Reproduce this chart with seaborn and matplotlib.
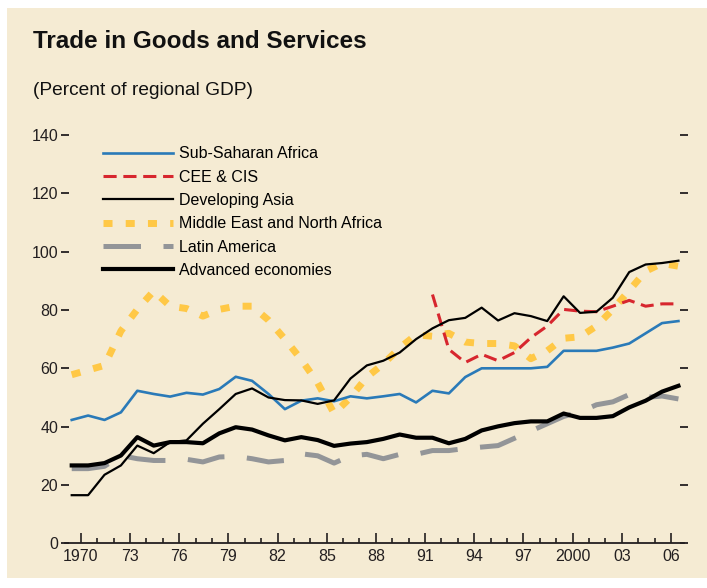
import numpy as np
import pandas as pd
import matplotlib.pyplot as plt
import seaborn as sns
from matplotlib.patches import Rectangle

# values (percent of regional GDP)
years = list(range(1970, 2008))

ssa = [42.3, 43.8, 42.3, 44.9, 52.3, 51.2, 50.3, 51.6, 51.0, 52.9,
       57.1, 55.7, 51.2, 46.0, 48.9, 49.7, 48.7, 50.4, 49.7, 50.4,
       51.2, 48.3, 52.3, 51.4, 57.0, 60.0, 60.0, 60.0, 60.0, 60.5,
       66.0, 66.0, 66.0, 67.1, 68.5, 72.0, 75.5, 76.2]

cee = [np.nan] * 22 + [85.3, 66.5, 62.0, 64.8, 62.6, 65.4, 70.5, 74.5,
                       80.2, 79.6, 79.4, 81.3, 83.3, 81.3, 82.1, 82.1]

asia = [16.5, 16.5, 23.5, 26.7, 33.5, 30.9, 34.7, 35.3, 41.0, 46.0,
        51.2, 53.1, 50.0, 49.1, 49.0, 47.8, 49.0, 56.5, 61.0, 62.6,
        65.4, 70.0, 73.7, 76.5, 77.3, 80.8, 76.4, 78.9, 77.9, 76.2,
        84.7, 79.0, 79.4, 84.2, 93.0, 95.6, 96.1, 96.9]

mena = [57.8, 59.4, 61.0, 72.8, 80.2, 86.5, 81.3, 80.5, 77.9, 80.2,
        81.3, 81.3, 76.5, 70.0, 63.0, 55.0, 44.5, 50.0, 57.0, 61.5,
        67.0, 71.5, 71.0, 72.0, 69.0, 68.5, 68.5, 67.7, 63.3, 66.0,
        70.3, 70.8, 74.5, 80.2, 86.7, 93.3, 96.0, 95.0]

latam = [25.6, 25.6, 26.4, 30.1, 29.0, 28.4, 28.4, 28.8, 27.9, 29.6,
         29.8, 29.0, 27.9, 28.4, 30.7, 30.0, 27.5, 30.0, 30.5, 29.0,
         30.5, 30.5, 31.8, 31.8, 32.5, 33.0, 33.5, 36.0, 38.5, 41.0,
         43.5, 45.0, 47.5, 48.5, 51.0, 50.0, 50.5, 49.5]

advanced = [26.7, 26.7, 27.5, 30.1, 36.4, 33.5, 34.7, 34.7, 34.3, 37.7,
            39.8, 39.0, 37.0, 35.3, 36.4, 35.4, 33.4, 34.2, 34.7, 35.8,
            37.3, 36.2, 36.2, 34.3, 35.8, 38.7, 40.1, 41.2, 41.8, 41.8,
            44.5, 43.0, 43.0, 43.6, 46.6, 48.9, 52.0, 54.0]

tick_years = [1970, 1973, 1976, 1979, 1982, 1985, 1988, 1991, 1994, 1997, 2000, 2003, 2006]
tick_labels = ['1970', '73', '76', '79', '82', '85', '88', '91', '94', '97', '2000', '03', '06']

df = pd.DataFrame({'year': years, 'ssa': ssa, 'cee': cee, 'asia': asia,
                   'mena': mena, 'latam': latam, 'advanced': advanced})

bg = '#F5EBD3'
plt.rcParams['font.family'] = ['Liberation Sans', 'DejaVu Sans']

fig = plt.figure(figsize=(7.07, 5.88), dpi=100, facecolor='white')
fig.patches.append(Rectangle((7 / 707, 10 / 588), 1, (588 - 18) / 588,
                             transform=fig.transFigure, facecolor=bg,
                             edgecolor='none', zorder=-10))
ax = fig.add_axes([65 / 707, (588 - 543.3) / 588, 619 / 707, (543.3 - 135) / 588])
ax.set_facecolor('none')

sns.lineplot(data=df, x='year', y='mena', ax=ax, color='#FFC846', lw=5,
             linestyle=(0, (1.3, 1.9)), label='Middle East and North Africa')
sns.lineplot(data=df, x='year', y='latam', ax=ax, color='#939598', lw=3.6,
             linestyle=(0, (7.5, 4.5)), label='Latin America')
sns.lineplot(data=df, x='year', y='ssa', ax=ax, color='#2A7AB8', lw=1.9,
             label='Sub-Saharan Africa')
sns.lineplot(data=df, x='year', y='cee', ax=ax, color='#D7262E', lw=2.2,
             linestyle=(0, (4.3, 2.2)), label='CEE & CIS')
sns.lineplot(data=df, x='year', y='asia', ax=ax, color='black', lw=1.6,
             label='Developing Asia')
sns.lineplot(data=df, x='year', y='advanced', ax=ax, color='black', lw=3,
             label='Advanced economies')

for line in ax.lines:
    line.set_dash_capstyle('butt')
    line.set_solid_joinstyle('round')

ax.set_xlim(1969.59, 2007.34)
ax.set_ylim(0, 140)
ax.set_xlabel('')
ax.set_ylabel('')

ax.set_xticks([y + 0.55 for y in tick_years])
ax.set_xticklabels(tick_labels)
ax.set_xticks([y + 0.55 for y in range(1970, 2007)], minor=True)
ax.tick_params(axis='x', which='major', direction='in', length=7, width=1.2,
               labelsize=11.5, pad=4, colors='#231F20')
ax.tick_params(axis='x', which='minor', direction='in', length=3.5, width=1.2,
               colors='#231F20')

ax.set_yticks(range(0, 141, 20))
ax.tick_params(axis='y', which='major', direction='inout', length=6, width=1.3,
               labelsize=11.5, pad=2, left=True, right=True, colors='#231F20')
for s in ['left', 'right', 'top']:
    ax.spines[s].set_visible(False)
ax.spines['bottom'].set_color('#231F20')
ax.spines['bottom'].set_linewidth(1.3)

handles, labels = ax.get_legend_handles_labels()
order = ['Sub-Saharan Africa', 'CEE & CIS', 'Developing Asia',
         'Middle East and North Africa', 'Latin America', 'Advanced economies']
hmap = dict(zip(labels, handles))
ax.legend([hmap[o] for o in order], order, loc='upper left',
          bbox_to_anchor=(0.061, 0.972), frameon=False, fontsize=11.5,
          handlelength=4.4, handletextpad=0.4, labelspacing=0.52,
          borderpad=0, borderaxespad=0)

fig.text(33 / 707, 1 - 48 / 588, 'Trade in Goods and Services', fontsize=17.5,
         fontweight='bold', color='#111111', ha='left', va='baseline')
fig.text(33 / 707, 1 - 95 / 588, '(Percent of regional GDP)', fontsize=13.8,
         color='#111111', ha='left', va='baseline')

fig.savefig('out.png', dpi=100, facecolor=fig.get_facecolor())
